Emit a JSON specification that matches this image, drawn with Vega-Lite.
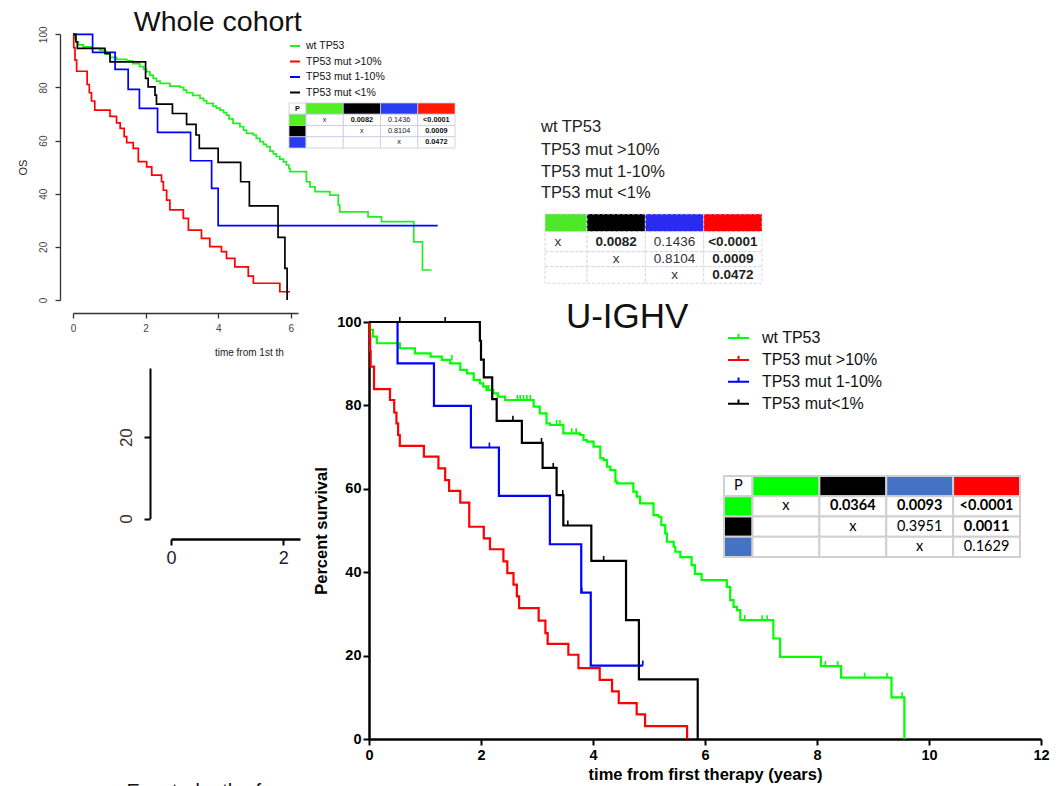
{
  "$schema": "https://vega.github.io/schema/vega-lite/v6.json",
  "width": 1062,
  "height": 786,
  "autosize": "none",
  "padding": 0,
  "background": "white",
  "config": {
    "view": {"stroke": null},
    "font": "Liberation Sans",
    "axis": {"grid": false, "labelFont": "Liberation Sans", "titleFont": "Liberation Sans", "labelFlush": false, "labelOverlap": false},
    "legend": {"labelFont": "Liberation Sans"}
  },
  "datasets": {
    "mainKM": [
      {"g":"wt TP53","t":0,"s":100},{"g":"wt TP53","t":0.02,"s":98.1},{"g":"wt TP53","t":0.07,"s":96.5},{"g":"wt TP53","t":0.14,"s":94.9},{"g":"wt TP53","t":0.55,"s":93.7},{"g":"wt TP53","t":0.82,"s":92.5},{"g":"wt TP53","t":1.10,"s":91.7},{"g":"wt TP53","t":1.30,"s":90.9},{"g":"wt TP53","t":1.45,"s":90.1},{"g":"wt TP53","t":1.63,"s":88.5},{"g":"wt TP53","t":1.75,"s":87.7},{"g":"wt TP53","t":1.87,"s":86.1},{"g":"wt TP53","t":1.98,"s":85.3},{"g":"wt TP53","t":2.04,"s":84.5},{"g":"wt TP53","t":2.10,"s":83.7},{"g":"wt TP53","t":2.22,"s":82.9},{"g":"wt TP53","t":2.30,"s":82.1},{"g":"wt TP53","t":2.43,"s":81.3},{"g":"wt TP53","t":2.94,"s":79.7},{"g":"wt TP53","t":3.05,"s":78.1},{"g":"wt TP53","t":3.17,"s":75.7},{"g":"wt TP53","t":3.23,"s":75.3},{"g":"wt TP53","t":3.47,"s":73.3},{"g":"wt TP53","t":3.77,"s":72.9},{"g":"wt TP53","t":3.83,"s":71.7},{"g":"wt TP53","t":3.89,"s":71.3},{"g":"wt TP53","t":4.01,"s":70.1},{"g":"wt TP53","t":4.13,"s":67.3},{"g":"wt TP53","t":4.19,"s":66.9},{"g":"wt TP53","t":4.25,"s":65.3},{"g":"wt TP53","t":4.31,"s":64.5},{"g":"wt TP53","t":4.40,"s":61.7},{"g":"wt TP53","t":4.43,"s":61.3},{"g":"wt TP53","t":4.72,"s":59.3},{"g":"wt TP53","t":4.78,"s":58.1},{"g":"wt TP53","t":4.84,"s":56.5},{"g":"wt TP53","t":5.08,"s":53.7},{"g":"wt TP53","t":5.17,"s":53.3},{"g":"wt TP53","t":5.22,"s":51.3},{"g":"wt TP53","t":5.29,"s":49.3},{"g":"wt TP53","t":5.32,"s":47.3},{"g":"wt TP53","t":5.44,"s":46.1},{"g":"wt TP53","t":5.47,"s":44.9},{"g":"wt TP53","t":5.56,"s":43.6},{"g":"wt TP53","t":5.76,"s":41.7},{"g":"wt TP53","t":5.82,"s":39.6},{"g":"wt TP53","t":5.94,"s":38.1},{"g":"wt TP53","t":6.39,"s":36.5},{"g":"wt TP53","t":6.45,"s":33.3},{"g":"wt TP53","t":6.51,"s":31.7},{"g":"wt TP53","t":6.57,"s":30.9},{"g":"wt TP53","t":6.63,"s":28.5},{"g":"wt TP53","t":7.22,"s":24.1},{"g":"wt TP53","t":7.34,"s":19.7},{"g":"wt TP53","t":8.07,"s":17.5},{"g":"wt TP53","t":8.43,"s":14.7},{"g":"wt TP53","t":9.33,"s":10.0},{"g":"wt TP53","t":9.56,"s":0},
      {"g":"TP53 mut >10%","t":0,"s":100},{"g":"TP53 mut >10%","t":0.01,"s":97},{"g":"TP53 mut >10%","t":0.02,"s":93},{"g":"TP53 mut >10%","t":0.03,"s":89.3},{"g":"TP53 mut >10%","t":0.09,"s":83.9},{"g":"TP53 mut >10%","t":0.375,"s":81.3},{"g":"TP53 mut >10%","t":0.45,"s":78.3},{"g":"TP53 mut >10%","t":0.49,"s":75.7},{"g":"TP53 mut >10%","t":0.52,"s":72.9},{"g":"TP53 mut >10%","t":0.55,"s":70.3},{"g":"TP53 mut >10%","t":0.98,"s":67.7},{"g":"TP53 mut >10%","t":1.24,"s":64.9},{"g":"TP53 mut >10%","t":1.36,"s":62.1},{"g":"TP53 mut >10%","t":1.43,"s":59.5},{"g":"TP53 mut >10%","t":1.63,"s":56.7},{"g":"TP53 mut >10%","t":1.79,"s":50.9},{"g":"TP53 mut >10%","t":2.05,"s":48.1},{"g":"TP53 mut >10%","t":2.16,"s":45.5},{"g":"TP53 mut >10%","t":2.40,"s":42.6},{"g":"TP53 mut >10%","t":2.47,"s":39.8},{"g":"TP53 mut >10%","t":2.58,"s":37.0},{"g":"TP53 mut >10%","t":2.64,"s":34.2},{"g":"TP53 mut >10%","t":2.68,"s":31.4},{"g":"TP53 mut >10%","t":3.03,"s":28.4},{"g":"TP53 mut >10%","t":3.15,"s":25.4},{"g":"TP53 mut >10%","t":3.19,"s":22.8},{"g":"TP53 mut >10%","t":3.56,"s":20.2},{"g":"TP53 mut >10%","t":3.74,"s":17.0},{"g":"TP53 mut >10%","t":4.12,"s":14.2},{"g":"TP53 mut >10%","t":4.34,"s":11.4},{"g":"TP53 mut >10%","t":4.46,"s":8.6},{"g":"TP53 mut >10%","t":4.78,"s":5.9},{"g":"TP53 mut >10%","t":4.93,"s":3.1},{"g":"TP53 mut >10%","t":5.68,"s":0},
      {"g":"TP53 mut 1-10%","t":0,"s":100},{"g":"TP53 mut 1-10%","t":0.51,"s":90.1},{"g":"TP53 mut 1-10%","t":1.16,"s":79.9},{"g":"TP53 mut 1-10%","t":1.82,"s":69.9},{"g":"TP53 mut 1-10%","t":2.32,"s":58.3},{"g":"TP53 mut 1-10%","t":3.23,"s":46.7},{"g":"TP53 mut 1-10%","t":3.79,"s":35.1},{"g":"TP53 mut 1-10%","t":3.96,"s":17.6},{"g":"TP53 mut 1-10%","t":4.89,"s":17.6},
      {"g":"TP53 mut<1%","t":0,"s":100},{"g":"TP53 mut<1%","t":1.98,"s":95.5},{"g":"TP53 mut<1%","t":2.00,"s":91.0},{"g":"TP53 mut<1%","t":2.05,"s":86.7},{"g":"TP53 mut<1%","t":2.20,"s":81.5},{"g":"TP53 mut<1%","t":2.28,"s":76.3},{"g":"TP53 mut<1%","t":2.73,"s":71.0},{"g":"TP53 mut<1%","t":3.10,"s":65.0},{"g":"TP53 mut<1%","t":3.35,"s":58.5},{"g":"TP53 mut<1%","t":3.47,"s":51.2},{"g":"TP53 mut<1%","t":3.97,"s":42.7},{"g":"TP53 mut<1%","t":4.59,"s":28.5},{"g":"TP53 mut<1%","t":4.82,"s":14.3},{"g":"TP53 mut<1%","t":5.87,"s":0}
    ],
    "mainCens": [
      {"g":"wt TP53","t":1.48,"s":90.9},{"g":"wt TP53","t":2.10,"s":83.7},{"g":"wt TP53","t":2.14,"s":83.7},{"g":"wt TP53","t":2.65,"s":81.3},{"g":"wt TP53","t":2.70,"s":81.3},{"g":"wt TP53","t":2.76,"s":81.3},{"g":"wt TP53","t":2.82,"s":81.3},{"g":"wt TP53","t":2.88,"s":81.3},{"g":"wt TP53","t":3.35,"s":75.3},{"g":"wt TP53","t":3.41,"s":75.3},{"g":"wt TP53","t":3.62,"s":73.3},{"g":"wt TP53","t":3.70,"s":73.3},{"g":"wt TP53","t":4.78,"s":58.1},{"g":"wt TP53","t":6.71,"s":28.5},{"g":"wt TP53","t":7.02,"s":28.5},{"g":"wt TP53","t":7.11,"s":28.5},{"g":"wt TP53","t":8.15,"s":17.5},{"g":"wt TP53","t":8.37,"s":17.5},{"g":"wt TP53","t":8.85,"s":14.7},{"g":"wt TP53","t":9.25,"s":14.7},{"g":"wt TP53","t":9.52,"s":10.0},
      {"g":"TP53 mut 1-10%","t":2.15,"s":69.9},{"g":"TP53 mut 1-10%","t":3.80,"s":35.1},{"g":"TP53 mut 1-10%","t":4.89,"s":17.6},
      {"g":"TP53 mut<1%","t":0.55,"s":100},{"g":"TP53 mut<1%","t":1.36,"s":100},{"g":"TP53 mut<1%","t":2.57,"s":76.3},{"g":"TP53 mut<1%","t":3.08,"s":71.0},{"g":"TP53 mut<1%","t":3.29,"s":65.0},{"g":"TP53 mut<1%","t":3.46,"s":58.5},{"g":"TP53 mut<1%","t":3.55,"s":51.2},{"g":"TP53 mut<1%","t":4.19,"s":42.7}
    ],
    "wholeKM": [
      {"g":"wt TP53","t":0,"s":100},{"g":"wt TP53","t":0.03,"s":98.5},{"g":"wt TP53","t":0.08,"s":97.2},{"g":"wt TP53","t":0.15,"s":96.0},{"g":"wt TP53","t":0.28,"s":95.3},{"g":"wt TP53","t":0.5,"s":94.7},{"g":"wt TP53","t":0.74,"s":94.0},{"g":"wt TP53","t":0.9,"s":92.5},{"g":"wt TP53","t":1.02,"s":91.3},{"g":"wt TP53","t":1.2,"s":90.6},{"g":"wt TP53","t":1.48,"s":90.0},{"g":"wt TP53","t":1.65,"s":89.0},{"g":"wt TP53","t":1.84,"s":87.8},{"g":"wt TP53","t":1.95,"s":86.8},{"g":"wt TP53","t":2.03,"s":85.9},{"g":"wt TP53","t":2.12,"s":84.6},{"g":"wt TP53","t":2.21,"s":83.4},{"g":"wt TP53","t":2.30,"s":82.4},{"g":"wt TP53","t":2.40,"s":81.5},{"g":"wt TP53","t":2.67,"s":80.5},{"g":"wt TP53","t":2.95,"s":80.0},{"g":"wt TP53","t":3.05,"s":79.0},{"g":"wt TP53","t":3.13,"s":78.0},{"g":"wt TP53","t":3.30,"s":77.0},{"g":"wt TP53","t":3.50,"s":75.9},{"g":"wt TP53","t":3.60,"s":75.0},{"g":"wt TP53","t":3.68,"s":74.0},{"g":"wt TP53","t":3.86,"s":73.0},{"g":"wt TP53","t":3.95,"s":72.2},{"g":"wt TP53","t":4.05,"s":71.5},{"g":"wt TP53","t":4.15,"s":70.5},{"g":"wt TP53","t":4.23,"s":69.6},{"g":"wt TP53","t":4.30,"s":68.2},{"g":"wt TP53","t":4.41,"s":66.5},{"g":"wt TP53","t":4.60,"s":65.2},{"g":"wt TP53","t":4.70,"s":63.9},{"g":"wt TP53","t":4.78,"s":62.7},{"g":"wt TP53","t":4.97,"s":62.1},{"g":"wt TP53","t":5.05,"s":60.8},{"g":"wt TP53","t":5.15,"s":59.6},{"g":"wt TP53","t":5.25,"s":58.6},{"g":"wt TP53","t":5.33,"s":57.7},{"g":"wt TP53","t":5.43,"s":56.0},{"g":"wt TP53","t":5.52,"s":55.0},{"g":"wt TP53","t":5.60,"s":54.0},{"g":"wt TP53","t":5.70,"s":53.0},{"g":"wt TP53","t":5.80,"s":52.0},{"g":"wt TP53","t":5.88,"s":50.8},{"g":"wt TP53","t":5.95,"s":49.5},{"g":"wt TP53","t":5.98,"s":48.3},{"g":"wt TP53","t":6.43,"s":44.5},{"g":"wt TP53","t":6.53,"s":42.6},{"g":"wt TP53","t":6.67,"s":40.8},{"g":"wt TP53","t":7.08,"s":39.5},{"g":"wt TP53","t":7.31,"s":35.7},{"g":"wt TP53","t":7.35,"s":33.2},{"g":"wt TP53","t":8.13,"s":31.3},{"g":"wt TP53","t":8.50,"s":29.5},{"g":"wt TP53","t":9.39,"s":21.9},{"g":"wt TP53","t":9.63,"s":11.3},{"g":"wt TP53","t":9.88,"s":11.3},
      {"g":"TP53 mut >10%","t":0,"s":100},{"g":"TP53 mut >10%","t":0.02,"s":95},{"g":"TP53 mut >10%","t":0.055,"s":90.3},{"g":"TP53 mut >10%","t":0.1,"s":86.1},{"g":"TP53 mut >10%","t":0.39,"s":81.1},{"g":"TP53 mut >10%","t":0.45,"s":78.0},{"g":"TP53 mut >10%","t":0.51,"s":74.9},{"g":"TP53 mut >10%","t":0.6,"s":71.5},{"g":"TP53 mut >10%","t":1.02,"s":69.1},{"g":"TP53 mut >10%","t":1.2,"s":66.7},{"g":"TP53 mut >10%","t":1.3,"s":64.6},{"g":"TP53 mut >10%","t":1.41,"s":61.5},{"g":"TP53 mut >10%","t":1.48,"s":59.2},{"g":"TP53 mut >10%","t":1.66,"s":57.1},{"g":"TP53 mut >10%","t":1.80,"s":52.1},{"g":"TP53 mut >10%","t":2.03,"s":50.1},{"g":"TP53 mut >10%","t":2.17,"s":47.0},{"g":"TP53 mut >10%","t":2.44,"s":44.5},{"g":"TP53 mut >10%","t":2.49,"s":41.3},{"g":"TP53 mut >10%","t":2.58,"s":37.6},{"g":"TP53 mut >10%","t":2.67,"s":33.9},{"g":"TP53 mut >10%","t":3.04,"s":30.7},{"g":"TP53 mut >10%","t":3.18,"s":26.3},{"g":"TP53 mut >10%","t":3.54,"s":23.2},{"g":"TP53 mut >10%","t":3.77,"s":20.1},{"g":"TP53 mut >10%","t":4.09,"s":18.2},{"g":"TP53 mut >10%","t":4.23,"s":15.7},{"g":"TP53 mut >10%","t":4.46,"s":12.5},{"g":"TP53 mut >10%","t":4.83,"s":9.0},{"g":"TP53 mut >10%","t":4.97,"s":6.3},{"g":"TP53 mut >10%","t":5.70,"s":3.1},{"g":"TP53 mut >10%","t":5.98,"s":3.1},
      {"g":"TP53 mut 1-10%","t":0,"s":100},{"g":"TP53 mut 1-10%","t":0.54,"s":93.2},{"g":"TP53 mut 1-10%","t":1.16,"s":86.8},{"g":"TP53 mut 1-10%","t":1.52,"s":79.3},{"g":"TP53 mut 1-10%","t":1.83,"s":72.1},{"g":"TP53 mut 1-10%","t":2.33,"s":63.1},{"g":"TP53 mut 1-10%","t":3.24,"s":52.4},{"g":"TP53 mut 1-10%","t":3.82,"s":42.0},{"g":"TP53 mut 1-10%","t":4.0,"s":28.0},{"g":"TP53 mut 1-10%","t":10.05,"s":28.0},
      {"g":"TP53 mut <1%","t":0,"s":100},{"g":"TP53 mut <1%","t":0.08,"s":97.2},{"g":"TP53 mut <1%","t":0.12,"s":94.7},{"g":"TP53 mut <1%","t":0.88,"s":92.8},{"g":"TP53 mut <1%","t":1.02,"s":89.6},{"g":"TP53 mut <1%","t":2.0,"s":83.4},{"g":"TP53 mut <1%","t":2.07,"s":80.2},{"g":"TP53 mut <1%","t":2.26,"s":77.1},{"g":"TP53 mut <1%","t":2.30,"s":73.7},{"g":"TP53 mut <1%","t":2.74,"s":70.2},{"g":"TP53 mut <1%","t":3.13,"s":66.1},{"g":"TP53 mut <1%","t":3.39,"s":62.1},{"g":"TP53 mut <1%","t":3.48,"s":57.1},{"g":"TP53 mut <1%","t":4.0,"s":51.8},{"g":"TP53 mut <1%","t":4.62,"s":44.5},{"g":"TP53 mut <1%","t":4.86,"s":35.4},{"g":"TP53 mut <1%","t":5.65,"s":23.6},{"g":"TP53 mut <1%","t":5.84,"s":11.9},{"g":"TP53 mut <1%","t":5.90,"s":0}
    ],
    "cells": [
      {"c0":0,"c1":1,"r0":0,"r1":1,"key":"blank"},{"c0":1,"c1":2,"r0":0,"r1":1,"key":"wt"},{"c0":2,"c1":3,"r0":0,"r1":1,"key":"lt1"},{"c0":3,"c1":4,"r0":0,"r1":1,"key":"mid"},{"c0":4,"c1":5,"r0":0,"r1":1,"key":"hi"},
      {"c0":0,"c1":1,"r0":1,"r1":2,"key":"wt"},{"c0":1,"c1":2,"r0":1,"r1":2,"key":"blank"},{"c0":2,"c1":3,"r0":1,"r1":2,"key":"blank"},{"c0":3,"c1":4,"r0":1,"r1":2,"key":"blank"},{"c0":4,"c1":5,"r0":1,"r1":2,"key":"blank"},
      {"c0":0,"c1":1,"r0":2,"r1":3,"key":"lt1"},{"c0":1,"c1":2,"r0":2,"r1":3,"key":"blank"},{"c0":2,"c1":3,"r0":2,"r1":3,"key":"blank"},{"c0":3,"c1":4,"r0":2,"r1":3,"key":"blank"},{"c0":4,"c1":5,"r0":2,"r1":3,"key":"blank"},
      {"c0":0,"c1":1,"r0":3,"r1":4,"key":"mid"},{"c0":1,"c1":2,"r0":3,"r1":4,"key":"blank"},{"c0":2,"c1":3,"r0":3,"r1":4,"key":"blank"},{"c0":3,"c1":4,"r0":3,"r1":4,"key":"blank"},{"c0":4,"c1":5,"r0":3,"r1":4,"key":"blank"}
    ],
    "pMain": [
      {"c":0.5,"r":0.5,"label":"P","sig":false},
      {"c":1.5,"r":1.5,"label":"x","sig":false},{"c":2.5,"r":1.5,"label":"0.0364","sig":true},{"c":3.5,"r":1.5,"label":"0.0093","sig":true},{"c":4.5,"r":1.5,"label":"<0.0001","sig":true},
      {"c":2.5,"r":2.5,"label":"x","sig":false},{"c":3.5,"r":2.5,"label":"0.3951","sig":false},{"c":4.5,"r":2.5,"label":"0.0011","sig":true},
      {"c":3.5,"r":3.5,"label":"x","sig":false},{"c":4.5,"r":3.5,"label":"0.1629","sig":false}
    ],
    "pWhole": [
      {"c":0.5,"r":0.5,"label":"P","sig":true},
      {"c":1.5,"r":1.5,"label":"x","sig":false},{"c":2.5,"r":1.5,"label":"0.0082","sig":true},{"c":3.5,"r":1.5,"label":"0.1436","sig":false},{"c":4.5,"r":1.5,"label":"<0.0001","sig":true},
      {"c":2.5,"r":2.5,"label":"x","sig":false},{"c":3.5,"r":2.5,"label":"0.8104","sig":false},{"c":4.5,"r":2.5,"label":"0.0009","sig":true},
      {"c":3.5,"r":3.5,"label":"x","sig":false},{"c":4.5,"r":3.5,"label":"0.0472","sig":true}
    ],
    "zoomLegend": [
      {"label":"wt TP53","r":-4.93},{"label":"TP53 mut >10%","r":-3.62},{"label":"TP53 mut 1-10%","r":-2.39},{"label":"TP53 mut <1%","r":-1.17}
    ]
  },
  "layer": [
    {
      "layer": [
        {
          "data": {"name": "wholeKM"},
          "mark": {"type": "line", "interpolate": "step-after", "strokeWidth": 1.7},
          "encoding": {
            "x": {"field": "t", "type": "quantitative",
              "scale": {"domain": [0, 6.2], "range": [73, 298], "nice": false, "zero": false},
              "axis": {"orient": "bottom", "offset": -473, "values": [0, 2, 4, 6], "format": "d", "title": null, "domainColor": "#333", "domainWidth": 1.3, "tickColor": "#333", "tickWidth": 1.3, "tickSize": 5, "labelFontSize": 10, "labelColor": "#444", "labelPadding": 5}},
            "y": {"field": "s", "type": "quantitative",
              "scale": {"domain": [0, 100], "range": [300, 34.3], "nice": false, "zero": false},
              "axis": {"orient": "left", "offset": -60, "values": [0, 20, 40, 60, 80, 100], "format": "d", "title": "OS", "labelAngle": -90, "domainColor": "#333", "domainWidth": 1.3, "tickColor": "#333", "tickWidth": 1.3, "tickSize": 5, "labelFontSize": 10, "labelColor": "#444", "labelPadding": 7, "titleFontSize": 11, "titleFontWeight": "normal", "titleColor": "#222", "titlePadding": 10}},
            "color": {"field": "g", "type": "nominal",
              "scale": {"domain": ["wt TP53", "TP53 mut >10%", "TP53 mut 1-10%", "TP53 mut <1%"], "range": ["#22ee22", "#ff0000", "#0000ff", "#000000"]},
              "legend": {"orient": "none", "legendX": 289, "legendY": 40, "title": null, "padding": 0, "symbolType": "stroke", "symbolSize": 100, "symbolStrokeWidth": 2, "labelFontSize": 10.5, "labelColor": "#111", "labelOffset": 5, "rowPadding": 3.5}}
          }
        },
        {
          "data": {"values": [{"label": "Whole cohort", "t": 3.99, "s": 104.6}]},
          "mark": {"type": "text", "fontSize": 28.5, "align": "center", "baseline": "middle", "color": "#111"},
          "encoding": {"x": {"field": "t", "type": "quantitative"}, "y": {"field": "s", "type": "quantitative"}, "text": {"field": "label"}}
        },
        {
          "data": {"values": [{"label": "time from 1st th", "t": 3.91, "s": -19.9}]},
          "mark": {"type": "text", "fontSize": 10, "align": "left", "baseline": "middle", "color": "#222"},
          "encoding": {"x": {"field": "t", "type": "quantitative"}, "y": {"field": "s", "type": "quantitative"}, "text": {"field": "label"}}
        }
      ]
    },
    {
      "layer": [
        {
          "data": {"name": "cells"},
          "mark": {"type": "rect", "stroke": "#c8c8e0", "strokeWidth": 0.8},
          "encoding": {
            "x": {"field": "c0", "type": "quantitative", "scale": {"domain": [0, 1, 5], "range": [289, 306, 455], "nice": false, "zero": false}, "axis": null},
            "x2": {"field": "c1"},
            "y": {"field": "r0", "type": "quantitative", "scale": {"domain": [0, 4], "range": [103, 148], "nice": false, "zero": false}, "axis": null},
            "y2": {"field": "r1"},
            "fill": {"field": "key", "type": "nominal", "scale": {"domain": ["blank", "wt", "lt1", "mid", "hi"], "range": ["#ffffff", "#55ee22", "#000000", "#2b3bf0", "#ff1a00"]}, "legend": null}
          }
        },
        {
          "data": {"name": "pWhole"},
          "transform": [{"filter": "!datum.sig"}],
          "mark": {"type": "text", "fontSize": 7.3, "color": "#222"},
          "encoding": {"x": {"field": "c", "type": "quantitative"}, "y": {"field": "r", "type": "quantitative"}, "text": {"field": "label"}}
        },
        {
          "data": {"name": "pWhole"},
          "transform": [{"filter": "datum.sig"}],
          "mark": {"type": "text", "fontSize": 7.3, "fontWeight": "bold", "color": "#111"},
          "encoding": {"x": {"field": "c", "type": "quantitative"}, "y": {"field": "r", "type": "quantitative"}, "text": {"field": "label"}}
        }
      ]
    },
    {
      "layer": [
        {
          "data": {"name": "cells"},
          "transform": [{"filter": "datum.c0 >= 1"}],
          "mark": {"type": "rect", "stroke": "#d4d4ee", "strokeWidth": 1, "strokeDash": [3, 2]},
          "encoding": {
            "x": {"field": "c0", "type": "quantitative", "scale": {"domain": [1.28, 5], "range": [545, 762], "nice": false, "zero": false, "clamp": true}, "axis": null},
            "x2": {"field": "c1"},
            "y": {"field": "r0", "type": "quantitative", "scale": {"domain": [0, 1, 2, 3, 4], "range": [214, 231.7, 251.7, 266.7, 283.3], "nice": false, "zero": false}, "axis": null},
            "y2": {"field": "r1"},
            "fill": {"field": "key", "type": "nominal", "scale": {"domain": ["blank", "wt", "lt1", "mid", "hi"], "range": ["#ffffff", "#4de82a", "#000000", "#2a2af0", "#ff0000"]}, "legend": null}
          }
        },
        {
          "data": {"name": "pWhole"},
          "transform": [{"filter": "!datum.sig && datum.c >= 1"}],
          "mark": {"type": "text", "fontSize": 13.5, "color": "#333"},
          "encoding": {"x": {"field": "c", "type": "quantitative"}, "y": {"field": "r", "type": "quantitative"}, "text": {"field": "label"}}
        },
        {
          "data": {"name": "pWhole"},
          "transform": [{"filter": "datum.sig && datum.c >= 1"}],
          "mark": {"type": "text", "fontSize": 13.5, "fontWeight": "bold", "color": "#222"},
          "encoding": {"x": {"field": "c", "type": "quantitative"}, "y": {"field": "r", "type": "quantitative"}, "text": {"field": "label"}}
        },
        {
          "data": {"name": "zoomLegend"},
          "mark": {"type": "text", "fontSize": 16.5, "align": "left", "baseline": "middle", "dx": -4, "color": "#222"},
          "encoding": {"x": {"datum": 1.2, "type": "quantitative"}, "y": {"field": "r", "type": "quantitative"}, "text": {"field": "label"}}
        }
      ]
    },
    {
      "data": {"values": [{"t": 0, "s": 0}]},
      "mark": {"type": "point", "opacity": 0},
      "encoding": {
        "x": {"field": "t", "type": "quantitative", "scale": {"domain": [0, 2.3], "range": [171, 300], "nice": false, "zero": false},
          "axis": {"orient": "bottom", "offset": -247, "values": [0, 2], "format": "d", "title": null, "domainColor": "#000", "domainWidth": 2.5, "tickColor": "#000", "tickWidth": 2, "tickSize": 6, "labelFontSize": 18, "labelColor": "#1a1a33", "labelPadding": 4}},
        "y": {"field": "s", "type": "quantitative", "scale": {"domain": [0, 37], "range": [518.5, 368], "nice": false, "zero": false},
          "axis": {"orient": "left", "offset": -150, "values": [0, 20], "format": "d", "title": null, "labelAngle": -90, "domainColor": "#000", "domainWidth": 2, "tickColor": "#000", "tickWidth": 2, "tickSize": 6, "labelFontSize": 17, "labelColor": "#3a2e2a", "labelPadding": 9}}
      }
    },
    {
      "layer": [
        {
          "data": {"name": "mainKM"},
          "mark": {"type": "line", "interpolate": "step-after", "strokeWidth": 2.2},
          "encoding": {
            "x": {"field": "t", "type": "quantitative",
              "scale": {"domain": [0, 12], "range": [369, 1041], "nice": false, "zero": false},
              "axis": {"orient": "bottom", "offset": -47, "values": [0, 2, 4, 6, 8, 10, 12], "format": "d", "title": "time from first therapy (years)", "domainColor": "#000", "domainWidth": 2.5, "tickColor": "#000", "tickWidth": 2, "tickSize": 6, "labelFontSize": 14.5, "labelFontWeight": "bold", "labelColor": "#000", "labelPadding": 3, "titleFontSize": 16.5, "titleFontWeight": "bold", "titleColor": "#000", "titlePadding": 5}},
            "y": {"field": "s", "type": "quantitative",
              "scale": {"domain": [0, 100], "range": [739, 322], "nice": false, "zero": false},
              "axis": {"orient": "left", "offset": -369, "values": [0, 20, 40, 60, 80, 100], "format": "d", "title": "Percent survival", "domainColor": "#000", "domainWidth": 2.5, "tickColor": "#000", "tickWidth": 2, "tickSize": 6, "labelFontSize": 14.5, "labelFontWeight": "bold", "labelColor": "#000", "labelPadding": 2, "titleFontSize": 16.5, "titleFontWeight": "bold", "titleColor": "#000", "titlePadding": 7}},
            "color": {"field": "g", "type": "nominal",
              "scale": {"domain": ["wt TP53", "TP53 mut >10%", "TP53 mut 1-10%", "TP53 mut<1%"], "range": ["#00ff00", "#ff0000", "#0000ff", "#000000"]},
              "legend": {"orient": "none", "legendX": 727, "legendY": 326.5, "title": null, "padding": 0, "symbolType": "M-1,0H1M0,0V-0.4", "symbolSize": 441, "symbolStrokeWidth": 2, "labelFontSize": 16, "labelColor": "#111", "labelOffset": 12, "rowPadding": 1.9}}
          }
        },
        {
          "data": {"name": "mainCens"},
          "mark": {"type": "tick", "orient": "vertical", "size": 5, "thickness": 1.6, "yOffset": -2.5, "opacity": 1},
          "encoding": {
            "x": {"field": "t", "type": "quantitative"},
            "y": {"field": "s", "type": "quantitative"},
            "color": {"field": "g", "type": "nominal"}
          }
        },
        {
          "data": {"values": [{"label": "U-IGHV", "t": 4.61, "s": 101.3}]},
          "mark": {"type": "text", "fontSize": 35, "align": "center", "baseline": "middle", "color": "#111"},
          "encoding": {"x": {"field": "t", "type": "quantitative"}, "y": {"field": "s", "type": "quantitative"}, "text": {"field": "label"}}
        },
        {
          "data": {"values": [{"label": "Event: death of any cause", "t": -4.33, "s": -10.3}]},
          "mark": {"type": "text", "fontSize": 20, "align": "left", "baseline": "top", "color": "#111"},
          "encoding": {"x": {"field": "t", "type": "quantitative"}, "y": {"field": "s", "type": "quantitative"}, "text": {"field": "label"}}
        }
      ]
    },
    {
      "layer": [
        {
          "data": {"name": "cells"},
          "mark": {"type": "rect", "stroke": "#d0d0d0", "strokeWidth": 2},
          "encoding": {
            "x": {"field": "c0", "type": "quantitative", "scale": {"domain": [0, 1, 5], "range": [724, 752.5, 1020], "nice": false, "zero": false}, "axis": null},
            "x2": {"field": "c1"},
            "y": {"field": "r0", "type": "quantitative", "scale": {"domain": [0, 4], "range": [476, 557], "nice": false, "zero": false}, "axis": null},
            "y2": {"field": "r1"},
            "fill": {"field": "key", "type": "nominal", "scale": {"domain": ["blank", "wt", "lt1", "mid", "hi"], "range": ["#ffffff", "#00ff00", "#000000", "#4472c4", "#ff0000"]}, "legend": null}
          }
        },
        {
          "data": {"name": "pMain"},
          "transform": [{"filter": "!datum.sig"}],
          "mark": {"type": "text", "font": "Lato", "fontSize": 14.5, "color": "#000"},
          "encoding": {"x": {"field": "c", "type": "quantitative"}, "y": {"field": "r", "type": "quantitative"}, "text": {"field": "label"}}
        },
        {
          "data": {"name": "pMain"},
          "transform": [{"filter": "datum.sig"}],
          "mark": {"type": "text", "font": "Lato", "fontSize": 14.5, "fontWeight": "bold", "color": "#000"},
          "encoding": {"x": {"field": "c", "type": "quantitative"}, "y": {"field": "r", "type": "quantitative"}, "text": {"field": "label"}}
        }
      ]
    }
  ],
  "resolve": {
    "scale": {"x": "independent", "y": "independent", "color": "independent", "fill": "independent"},
    "axis": {"x": "independent", "y": "independent"},
    "legend": {"color": "independent", "fill": "independent"}
  }
}
